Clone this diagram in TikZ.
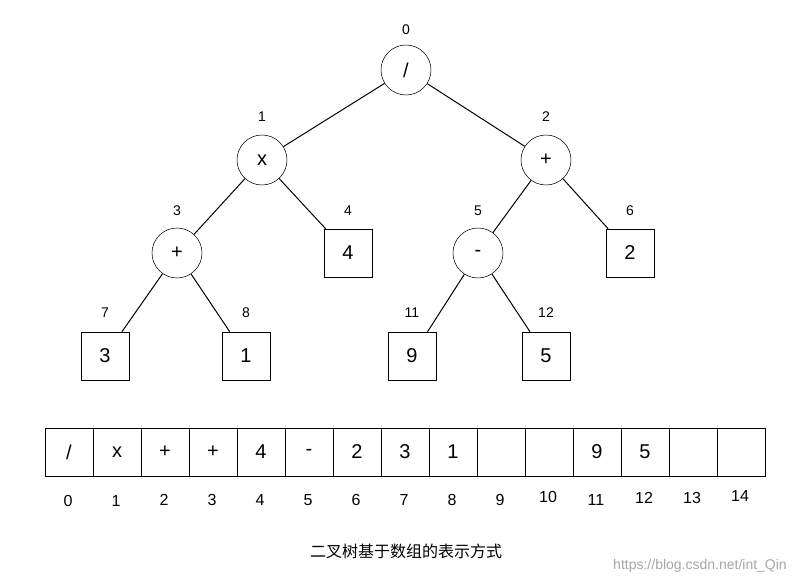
\documentclass[tikz,border=0pt]{standalone}
\usepackage{fontspec}
\setmainfont{Liberation Sans}
\newfontfamily\cjk{Noto Sans CJK SC}
\begin{document}
\begin{tikzpicture}[x=0.75pt,y=-0.75pt,
  cnode/.style={draw,circle,minimum size=37.5pt,inner sep=0pt,font=\fontsize{15}{15}\selectfont},
  snode/.style={draw,rectangle,minimum size=36pt,inner sep=0pt,font=\fontsize{15}{15}\selectfont},
  cell/.style={draw,rectangle,minimum width=36pt,minimum height=36pt,inner sep=0pt,font=\fontsize{15}{15}\selectfont},
  idx/.style={font=\fontsize{10.5}{10.5}\selectfont},
  aidx/.style={font=\fontsize{12}{12}\selectfont},
  edge/.style={draw,line width=0.75pt}]
\useasboundingbox (0,0) rectangle (808,584);
\node[cnode] (n0) at (406,70) {/};
\node[cnode] (n1) at (262,160) {x};
\node[cnode] (n2) at (546,160) {+};
\node[cnode] (n3) at (177,253) {+};
\node[snode] (n4) at (348,253) {4};
\node[cnode] (n5) at (478,253) {-};
\node[snode] (n6) at (630,253) {2};
\node[snode] (n7) at (105,356) {3};
\node[snode] (n8) at (246,356) {1};
\node[snode] (n11) at (412,356) {9};
\node[snode] (n12) at (546,356) {5};
\foreach \a/\b in {n0/n1,n0/n2,n1/n3,n1/n4,n2/n5,n2/n6,n3/n7,n3/n8,n5/n11,n5/n12}
  \draw[edge] (\a) -- (\b);
\node[idx] (l0) at (406,30) {0};
\node[idx] (l1) at (262,117) {1};
\node[idx] (l2) at (546,117) {2};
\node[idx] (l3) at (177,211) {3};
\node[idx] (l4) at (348,211) {4};
\node[idx] (l5) at (478,211) {5};
\node[idx] (l6) at (630,211) {6};
\node[idx] (l7) at (105,313) {7};
\node[idx] (l8) at (246,313) {8};
\node[idx] (l11) at (412,313) {11};
\node[idx] (l12) at (546,313) {12};
\foreach \i/\t/\dy in {0/{/}/1,1/x/1,2/+/0,3/+/0,4/4/0,5/-/0,6/2/0,7/3/0,8/1/0,9/{}/0,10/{}/-3,11/9/0,12/5/-2,13/{}/-2,14/{}/-4}{
  \node[cell] (c\i) at (69+48*\i,452) {\t};
  \node[aidx] (a\i) at (68+48*\i,500+\dy) {\i};
}
\node[font=\cjk\fontsize{12}{12}\selectfont] (cap) at (406,551) {二叉树基于数组的表示方式};
\node[font=\fontsize{10.5}{10.5}\selectfont,text=black!35] (wm) at (700,566) {https://blog.csdn.net/int\_Qin};
\end{tikzpicture}
\end{document}
